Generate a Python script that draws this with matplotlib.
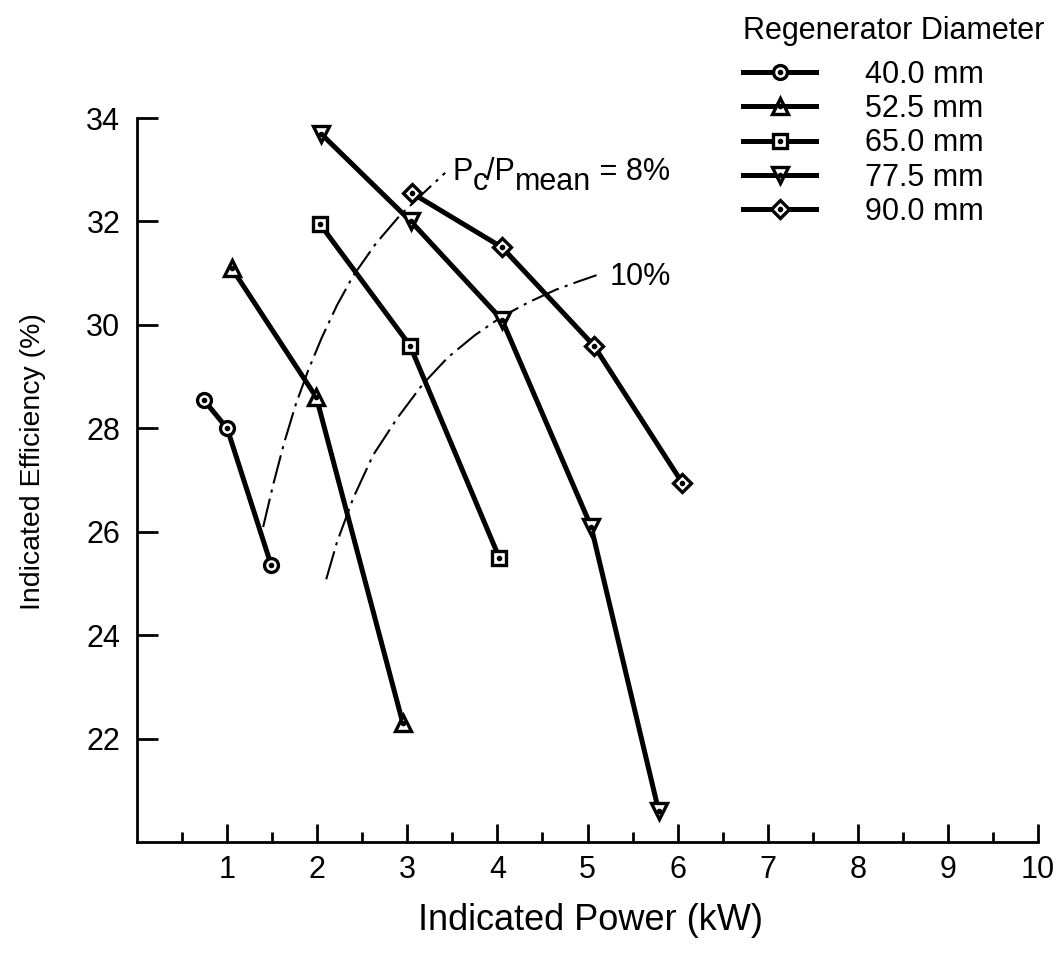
import matplotlib
matplotlib.use("Agg")
import matplotlib.pyplot as plt
from matplotlib.legend_handler import HandlerTuple
from matplotlib.transforms import offset_copy

plt.rcParams['font.family'] = ['Liberation Sans', 'DejaVu Sans']

# ---- data ----
labels = ["40.0 mm", "52.5 mm", "65.0 mm", "77.5 mm", "90.0 mm"]
markers = ["o", "^", "s", "v", "D"]

power_40 = [0.74, 1.0, 1.49]
eff_40 = [28.55, 28.0, 25.35]
power_525 = [1.05, 1.99, 2.95]
eff_525 = [31.1, 28.6, 22.3]
power_65 = [2.03, 3.03, 4.02]
eff_65 = [31.95, 29.6, 25.5]
power_775 = [2.04, 3.04, 4.05, 5.04, 5.79]
eff_775 = [33.7, 32.0, 30.1, 26.1, 20.6]
power_90 = [3.05, 4.05, 5.07, 6.05]
eff_90 = [32.55, 31.5, 29.6, 26.95]

series_x = [power_40, power_525, power_65, power_775, power_90]
series_y = [eff_40, eff_525, eff_65, eff_775, eff_90]

# constant Pc/Pmean curves
curve8_x = [1.40, 1.51, 1.63, 1.76, 1.90, 2.05, 2.22, 2.40, 2.65, 2.92, 3.18, 3.42]
curve8_y = [26.09, 26.90, 27.70, 28.45, 29.12, 29.75, 30.38, 30.95, 31.57, 32.12, 32.55, 32.94]
curve10_x = [2.10, 2.22, 2.40, 2.62, 2.89, 3.17, 3.45, 3.75, 4.05, 4.35, 4.65, 4.90, 5.10]
curve10_y = [25.08, 25.80, 26.65, 27.48, 28.20, 28.85, 29.37, 29.80, 30.16, 30.44, 30.68, 30.84, 30.96]

xticks = [1, 2, 3, 4, 5, 6, 7, 8, 9, 10]
yticks = [22, 24, 26, 28, 30, 32, 34]

# ---- figure ----
fig = plt.figure(figsize=(10.63, 9.60), dpi=100)
ax = fig.add_axes([137/1063, 1-842/960, 901/1063, 724/960])

dd = (0, (14, 3, 1.5, 3))
ax.plot(curve8_x, curve8_y, color='black', lw=1.5, linestyle=dd, zorder=1)
ax.plot(curve10_x, curve10_y, color='black', lw=1.5, linestyle=dd, zorder=1)

msizes = {"o": 10, "^": 12, "s": 10, "v": 12, "D": 9.5}
handles = []
for xs, ys, m, lab in zip(series_x, series_y, markers, labels):
    ln, = ax.plot(xs, ys, color='black', lw=3.6, marker=m, ms=msizes[m],
                  mfc='white', mec='black', mew=2.4, zorder=3, label=lab)
    dot, = ax.plot(xs, ys, linestyle='none', marker='o', ms=3.0,
                   color='black', zorder=4)
    handles.append((ln, dot))

ax.set_xlim(0, 10)
ax.set_ylim(20, 34)
ax.set_xticks(xticks)
ax.set_xticks([0.5 + i for i in range(10)], minor=True)
ax.set_yticks(yticks)
ax.spines['top'].set_visible(False)
ax.spines['right'].set_visible(False)
ax.spines['left'].set_linewidth(2)
ax.spines['bottom'].set_linewidth(2)
ax.tick_params(axis='x', which='major', direction='in', length=13, width=2,
               labelsize=22, pad=9)
ax.tick_params(axis='x', which='minor', direction='in', length=7, width=2)
ax.tick_params(axis='y', which='major', direction='in', length=15, width=2,
               labelsize=22, pad=12)

ax.set_xlabel("Indicated Power (kW)", fontsize=26)
ax.set_ylabel("Indicated Efficiency (%)", fontsize=20.5)
ax.xaxis.set_label_coords(0.503, -0.084)
ax.yaxis.set_label_coords(-0.101, 0.525)

# P_c/P_mean = 8% label (full-size lowered subscripts)
renderer = fig.canvas.get_renderer()
pieces = [("P", 0), ("c", -7), ("/P", 0), ("mean", -7), (" = 8%", 0)]
xoff = 0.0
for s, dy in pieces:
    tr = offset_copy(ax.transData, fig=fig, x=xoff, y=dy * 100 / 72, units='dots')
    t = ax.text(3.50, 32.80, s, fontsize=22, ha='left', va='baseline', transform=tr)
    bb = t.get_window_extent(renderer)
    xoff += bb.width - (2 if s == "c" else 0)

ax.text(5.25, 30.77, "10%", fontsize=22, ha='left', va='baseline')

leg = ax.legend(handles, labels, handler_map={tuple: HandlerTuple(ndivide=1)},
                loc='upper left', bbox_to_anchor=(743/1063, 1-16/960),
                bbox_transform=fig.transFigure, frameon=False, fontsize=22,
                title="Regenerator Diameter", title_fontsize=22,
                handlelength=2.4, handletextpad=1.6, labelspacing=0.14,
                borderpad=0, borderaxespad=0, markerscale=1.0)
leg._legend_box.align = "left"
leg._legend_box.sep = 10

fig.savefig("out.png", dpi=100)
